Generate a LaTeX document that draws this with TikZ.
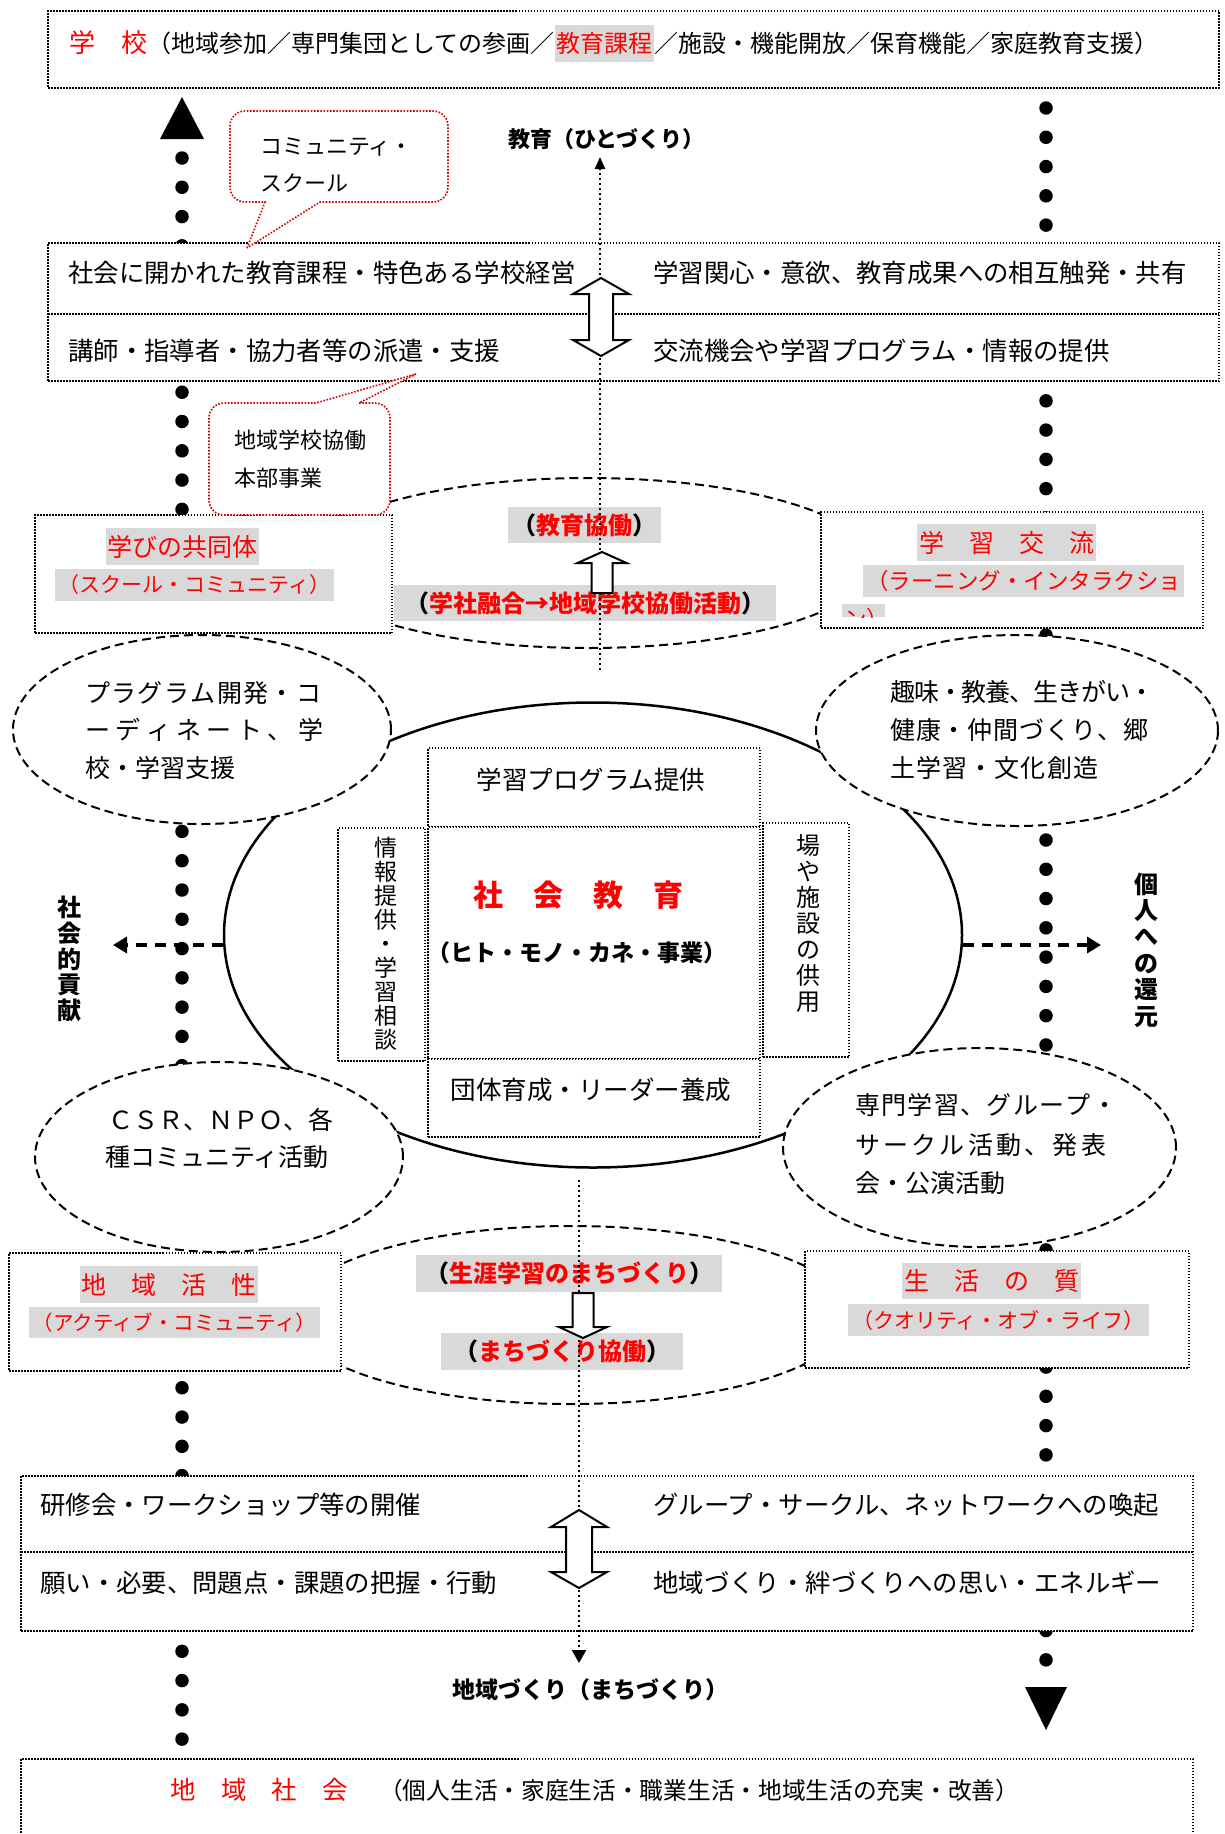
\documentclass[tikz,border=0pt]{standalone}
\usepackage{fontspec}
\setmainfont{Noto Sans CJK JP}
\usetikzlibrary{shapes.geometric,arrows.meta}
\definecolor{hl}{RGB}{217,217,217}
\definecolor{cred}{RGB}{210,0,0}
\newcommand\fsz[1]{\fontsize{#1}{#1}\selectfont}
\newcommand\sglue{\hskip 0pt plus 1fil minus 4pt\relax}
\ExplSyntaxOn
\NewDocumentCommand\spread{mm}{\makebox[#1][s]{\tl_map_inline:nn{#2}{##1\sglue}\unskip}}
\ExplSyntaxOff
\begin{document}
\begin{tikzpicture}[x=1pt,y=-1pt,
 dotbox/.style={draw,fill=white,line width=1.5pt,dash pattern=on 1.5pt off 1.5pt,inner sep=0pt,outer sep=0pt},
 dotline/.style={line width=1.5pt,dash pattern=on 1.5pt off 1.5pt},
 dashell/.style={draw,ellipse,line width=2pt,dash pattern=on 9pt off 5pt,inner sep=0pt},
 bigdots/.style={line width=13.5pt,line cap=round,dash pattern=on 0pt off 29.28pt},
 cline/.style={line width=2.3pt,dash pattern=on 2.3pt off 2.7pt},
 harrow/.style={line width=3.5pt,dash pattern=on 11pt off 8pt,-{Triangle[length=14pt,width=16pt]}},
 blockarrow/.style={draw,fill=white,line width=2pt,line join=miter},
 callout/.style={draw=cred,fill=white,line width=1.6pt,dash pattern=on 1.6pt off 1.6pt},
 txt/.style={inner sep=0pt,anchor=west},
 graybg/.style={fill=hl,inner sep=0pt},
]
\useasboundingbox (0,0) rectangle (1224,1834);
\clip (0,0) rectangle (1224,1834);
\fill[white] (0,0) rectangle (1224,1834);

% ---- big dotted columns
\coordinate (L1) at (182,158); \coordinate (L2) at (182,1745);
\coordinate (R1) at (1046,108); \coordinate (R2) at (1046,1665);
\draw[bigdots] (L1) -- (L2);
\draw[bigdots] (R1) -- (R2);
\fill (182,97) -- (204,139) -- (160,139) -- cycle;
\fill (1025,1687) -- (1067,1687) -- (1046,1730) -- cycle;

% ---- main ellipse
\node[draw,ellipse,line width=2.5pt,minimum width=738,minimum height=465,inner sep=0pt] (main) at (593,935) {};

% ---- middle dashed ellipses
\node[dashell,minimum width=570,minimum height=170] (emu) at (588,563) {};
\node[dashell,minimum width=560,minimum height=178] (eml) at (571,1315) {};

% ---- side boxes
\node[dotbox,minimum width=357,minimum height=118] (bxL1) at (213.5,574) {};
\node[dotbox,minimum width=382,minimum height=116] (bxR1) at (1012,570) {};
\node[dotbox,minimum width=332,minimum height=118] (bxL2) at (175,1312) {};
\node[dotbox,minimum width=384,minimum height=117] (bxR2) at (997,1309.5) {};

% ---- dashed circles
\node[dashell,fill=white,minimum width=378,minimum height=189] (cul) at (202,729.5) {};
\node[dashell,fill=white,minimum width=402,minimum height=191] (cur) at (1017,730.5) {};
\node[dashell,fill=white,minimum width=368,minimum height=190] (cll) at (219,1157) {};
\node[dashell,fill=white,minimum width=393,minimum height=199] (clr) at (979.5,1147.5) {};

% ---- main boxes
\node[dotbox,minimum width=1171,minimum height=77] (topbox) at (633.5,49.5) {};
\node[dotbox,minimum width=1171,minimum height=138] (box2) at (633.5,312) {};
\draw[dotline] (48,314) -- (1219,314);
\node[dotbox,minimum width=1172,minimum height=155] (box3) at (607,1553.5) {};
\draw[dotline] (21,1552) -- (1193,1552);
\node[dotbox,minimum width=1172,minimum height=101] (botbox) at (607,1809.5) {};

% ---- inner boxes
\node[dotbox,minimum width=332,minimum height=79] (ibT) at (594,787.5) {};
\node[dotbox,minimum width=87,minimum height=233] (ibL) at (381.5,944.5) {};
\node[dotbox,minimum width=86,minimum height=234] (ibR) at (806,940) {};
\node[dotbox,minimum width=332,minimum height=232] (ibC) at (594,943) {};
\node[dotbox,minimum width=332,minimum height=78] (ibB) at (594,1098) {};

% ---- callouts
\draw[callout] (247,248) -- (265,202) -- (255,202) [rounded corners=15pt] -- (230,202) -- (230,111) -- (448,111) -- (448,202) -- (340,202) [sharp corners] -- (320,202) -- cycle;
\draw[callout] (416,374) -- (359,403) -- (370,403) [rounded corners=15pt] -- (390,403) -- (390,515) -- (209,515) -- (209,403) -- (300,403) [sharp corners] -- (316,403) -- cycle;
\node[txt,font=\fsz{22}] (cs1) at (260,147) {コミュニティ・};
\node[txt,font=\fsz{22}] (cs2) at (260,183) {スクール};
\node[txt,font=\fsz{22}] (hb1) at (234,440) {地域学校協働};
\node[txt,font=\fsz{22}] (hb2) at (234,478) {本部事業};

% ---- top box text
\node[txt,font=\fsz{26},text=red] (tA) at (69,43) {学　校};
\node[txt,font=\fsz{24}] (tB) at (tA.east) {（地域参加／専門集団としての参画／};
\node[txt,graybg,minimum height=37,inner xsep=1.5pt,font=\fsz{24},text=red] (tC) at (tB.east) {教育課程};
\node[txt,font=\fsz{24}] (tD) at (tC.east) {／施設・機能開放／保育機能／家庭教育支援）};

% ---- bottom box text
\node[txt,font=\fsz{25.4},text=red] (bA) at (170,1790) {地　域　社　会};
\node[txt,font=\fsz{23.7}] (bB) at (379,1790) {（個人生活・家庭生活・職業生活・地域生活の充実・改善）};

% ---- box2 / box3 texts
\node[txt,font=\fsz{25.4}] (r1a) at (68,273) {社会に開かれた教育課程・特色ある学校経営};
\node[txt,font=\fsz{25.4}] (r1b) at (653,273) {学習関心・意欲、教育成果への相互触発・共有};
\node[txt,font=\fsz{25.4}] (r2a) at (68,351) {講師・指導者・協力者等の派遣・支援};
\node[txt,font=\fsz{25.4}] (r2b) at (653,351) {交流機会や学習プログラム・情報の提供};
\node[txt,font=\fsz{25.4}] (r3a) at (40,1505) {研修会・ワークショップ等の開催};
\node[txt,font=\fsz{25.4}] (r3b) at (653,1505) {グループ・サークル、ネットワークへの喚起};
\node[txt,font=\fsz{25.4}] (r4a) at (40,1583) {願い・必要、問題点・課題の把握・行動};
\node[txt,font=\fsz{25.4}] (r4b) at (653,1583) {地域づくり・絆づくりへの思い・エネルギー};

% ---- circle texts
\node[txt,font=\fsz{25}] (ul1) at (85,693) {\spread{236pt}{プラグラム開発・コ}};
\node[txt,font=\fsz{25}] (ul2) at (85,730) {\spread{238pt}{ーディネート、学}};
\node[txt,font=\fsz{25}] (ul3) at (85,768) {校・学習支援};
\node[txt,font=\fsz{25}] (ur1) at (890,692) {\spread{264pt}{趣味・教養、生きがい・}};
\node[txt,font=\fsz{25}] (ur2) at (890,730) {\spread{258pt}{健康・仲間づくり、郷}};
\node[txt,font=\fsz{25}] (ur3) at (890,768) {\spread{208pt}{土学習・文化創造}};
\node[txt,font=\fsz{25}] (ll1) at (108,1120) {ＣＳＲ、ＮＰＯ、各};
\node[txt,font=\fsz{25}] (ll2) at (105,1157) {種コミュニティ活動};
\node[txt,font=\fsz{25}] (lr1) at (855,1105) {\spread{262pt}{専門学習、グループ・}};
\node[txt,font=\fsz{25}] (lr2) at (855,1145) {\spread{251pt}{サークル活動、発表}};
\node[txt,font=\fsz{25}] (lr3) at (855,1183) {会・公演活動};

% ---- inner box texts
\node[inner sep=0pt,font=\fsz{25.5}] (tprog) at (591,780) {学習プログラム提供};
\node[inner sep=0pt,font=\fsz{25.5}] (tdan) at (591,1090) {団体育成・リーダー養成};
\node[inner sep=0pt,font=\bfseries\fsz{30},text=red] (tsk) at (578,895) {社　会　教　育};
\node[inner sep=0pt,font=\bfseries\fsz{23}] (thito) at (577,953) {（ヒト・モノ・カネ・事業）};
\node[inner sep=0pt,align=center,font=\fontsize{23}{24}\selectfont] (tjoho) at (386,944) {情\\報\\提\\供\\・\\学\\習\\相\\談};
\node[inner sep=0pt,align=center,font=\fontsize{24}{26}\selectfont] (tba) at (808,924) {場\\や\\施\\設\\の\\供\\用};

% ---- side vertical labels
\node[inner sep=0pt,align=center,font=\bfseries\fontsize{24}{25.75}\selectfont] (tshakai) at (69,959) {社\\会\\的\\貢\\献};
\node[inner sep=0pt,align=center,font=\bfseries\fontsize{24}{26.4}\selectfont] (tkojin) at (1146,950) {個\\人\\へ\\の\\還\\元};

% ---- center labels
\node[txt,font=\bfseries\fsz{22}] (tkyoiku) at (508,139) {教育（ひとづくり）};
\node[txt,font=\bfseries\fsz{23}] (tchiiki) at (452,1690) {地域づくり（まちづくり）};

% ---- gray labels
\node[graybg,minimum width=153,minimum height=36,font=\bfseries\fsz{24}] (g1) at (584.5,525) {（\textcolor{red}{教育協働}）};
\node[graybg,minimum width=382,minimum height=36,font=\bfseries\fsz{24}] (g2) at (585,603) {（\textcolor{red}{学社融合→地域学校協働活動}）};
\node[graybg,minimum width=153,minimum height=37,font=\fsz{25},text=red] (g3) at (182.5,546.5) {学びの共同体};
\node[graybg,minimum width=279,minimum height=32,font=\fsz{21},text=red] (g4) at (194.5,585) {（スクール・コミュニティ）};
\node[graybg,minimum width=179,minimum height=37,font=\fsz{25},text=red] (g5) at (1006.5,542.5) {学　習　交　流};
\node[graybg,minimum width=321,minimum height=32,font=\fsz{22.5},text=red] (g6) at (1023.5,581) {（ラーニング・インタラクショ};
\begin{scope}
\clip (842,604) rectangle (885,617);
\fill[hl] (842,604) rectangle (885,617);
\node[txt,font=\fsz{22.5},text=red] (g7) at (844,619) {ン）};
\end{scope}
\node[graybg,minimum width=178,minimum height=37,font=\fsz{25},text=red] (g8) at (169,1284.5) {地　域　活　性};
\node[graybg,minimum width=291,minimum height=31,font=\fsz{20.5},text=red] (g9) at (174.5,1322.5) {（アクティブ・コミュニティ）};
\node[graybg,minimum width=179,minimum height=36,font=\fsz{25},text=red] (g10) at (991.5,1281) {生　活　の　質};
\node[graybg,minimum width=301,minimum height=32,font=\fsz{21},text=red] (g11) at (998.5,1320) {（クオリティ・オブ・ライフ）};
\node[graybg,minimum width=306,minimum height=37,font=\bfseries\fsz{24}] (g12) at (569,1273.5) {（\textcolor{red}{生涯学習のまちづくり}）};
\node[graybg,minimum width=242,minimum height=37,font=\bfseries\fsz{24}] (g13) at (562,1351.5) {（\textcolor{red}{まちづくり協働}）};

% ---- central dotted lines
\coordinate (cu1) at (600,670); \coordinate (cu2) at (600,157);
\draw[cline,-{Triangle[length=12pt,width=10pt]}] (cu1) -- (cu2);
\coordinate (cl1) at (579,1180); \coordinate (cl2) at (579,1663);
\draw[cline,-{Triangle[length=13pt,width=14pt]}] (cl1) -- (cl2);

% ---- block arrows
\draw[blockarrow] (601,278) -- (629,294) -- (613,294) -- (613,340) -- (629,340) -- (601,356) -- (573,340) -- (589,340) -- (589,294) -- (573,294) -- cycle;
\draw[blockarrow] (579,1510) -- (607,1527) -- (592,1527) -- (592,1572) -- (607,1572) -- (579,1588) -- (551,1572) -- (566,1572) -- (566,1527) -- (551,1527) -- cycle;
\draw[blockarrow] (602,552) -- (626.5,563) -- (612.5,563) -- (612.5,593) -- (591.5,593) -- (591.5,563) -- (577.5,563) -- cycle;
\draw[blockarrow] (572.5,1293) -- (593.5,1293) -- (593.5,1327) -- (607,1327) -- (583,1338) -- (559,1327) -- (572.5,1327) -- cycle;

% ---- horizontal arrows
\coordinate (la) at (113,945); \coordinate (ra) at (1101,945);
\draw[harrow] (main.west |- la) -- (la);
\draw[harrow] (main.east |- ra) -- (ra);
\end{tikzpicture}
\end{document}
